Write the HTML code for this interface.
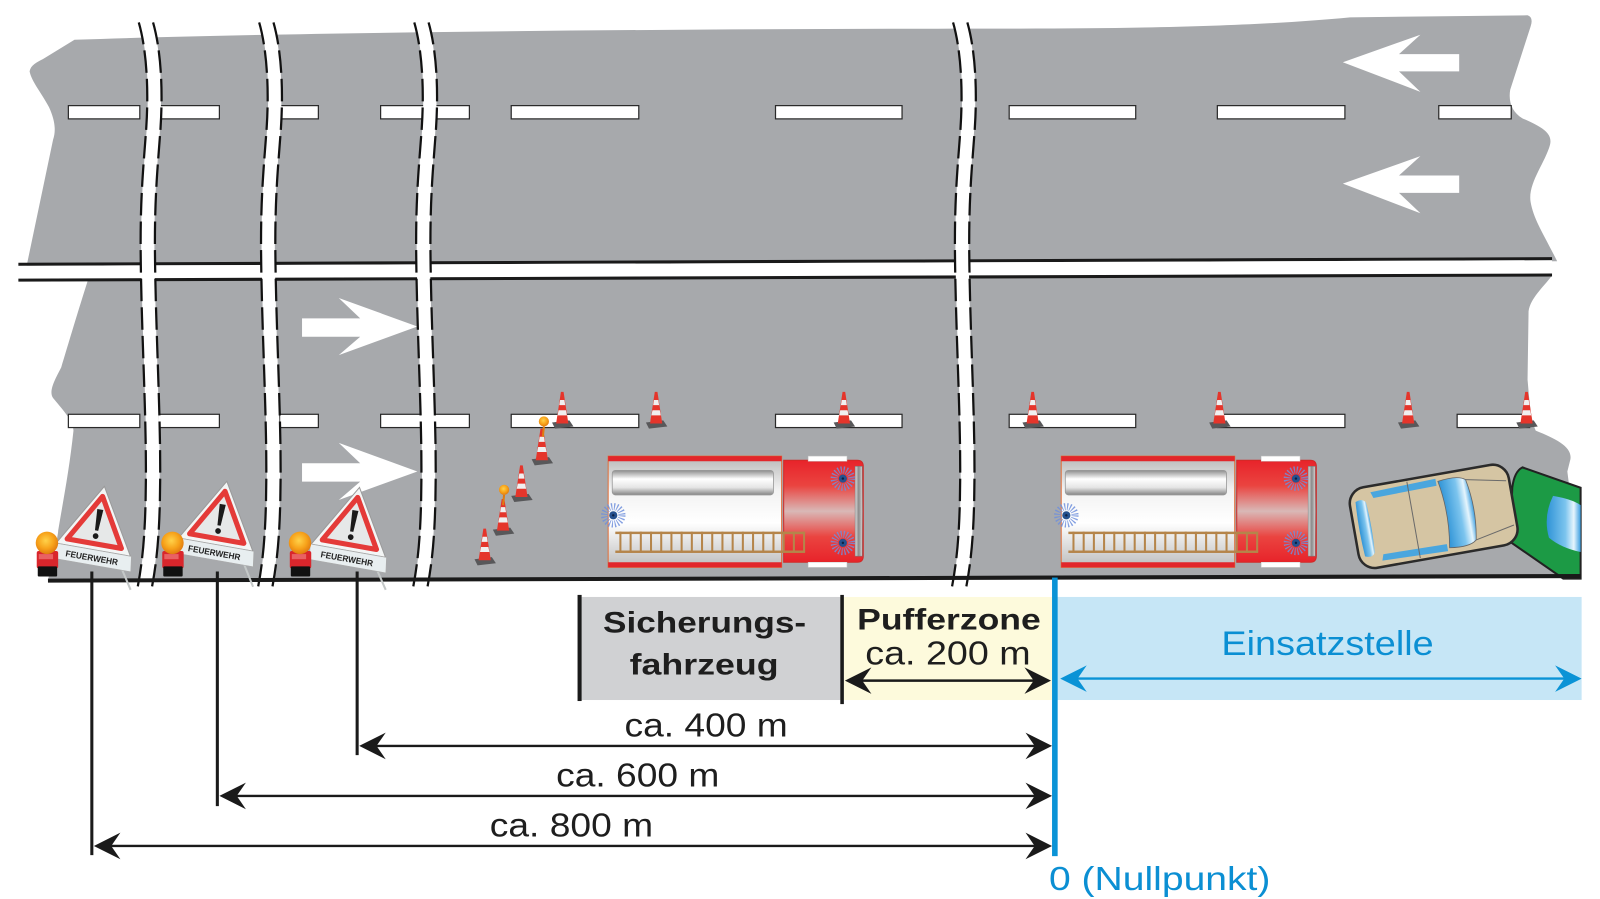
<!DOCTYPE html>
<html><head><meta charset="utf-8">
<style>html,body{margin:0;padding:0;background:#fff;overflow:hidden}svg{display:block}</style>
</head><body>
<svg width="1600" height="899" viewBox="0 0 1568 881" preserveAspectRatio="none" xmlns="http://www.w3.org/2000/svg">
<defs>
 <linearGradient id="tube" x1="0" y1="0" x2="0" y2="1">
  <stop offset="0" stop-color="#8e8e8e"/><stop offset="0.35" stop-color="#ffffff"/><stop offset="0.7" stop-color="#e4e4e4"/><stop offset="1" stop-color="#858585"/>
 </linearGradient>
 <linearGradient id="body" x1="0" y1="0" x2="0" y2="1">
  <stop offset="0" stop-color="#b8b8b8"/><stop offset="0.3" stop-color="#f2f2f2"/><stop offset="0.6" stop-color="#ffffff"/><stop offset="1" stop-color="#bdbdbd"/>
 </linearGradient>
 <linearGradient id="cab" x1="0" y1="0" x2="0" y2="1">
  <stop offset="0" stop-color="#e8232a"/><stop offset="0.25" stop-color="#ea4440"/><stop offset="0.5" stop-color="#d9b8b6"/><stop offset="0.75" stop-color="#ea4440"/><stop offset="1" stop-color="#e8232a"/>
 </linearGradient>
 <linearGradient id="ws" x1="0" y1="0" x2="1" y2="0">
  <stop offset="0" stop-color="#e0e0e0"/><stop offset="0.5" stop-color="#8a8a8a"/><stop offset="1" stop-color="#cfcfcf"/>
 </linearGradient>
 <linearGradient id="glass" x1="0" y1="0" x2="1" y2="0">
  <stop offset="0" stop-color="#2f93d6"/><stop offset="0.55" stop-color="#7cc4ee"/><stop offset="0.8" stop-color="#e6f5fd"/><stop offset="1" stop-color="#3a9ee0"/>
 </linearGradient>
 <radialGradient id="lamp" cx="0.45" cy="0.4" r="0.6">
  <stop offset="0" stop-color="#ffd24a"/><stop offset="0.6" stop-color="#f7a21a"/><stop offset="1" stop-color="#e07b10"/>
 </radialGradient>
 <g id="cone">
  <polygon points="-10,-1 7,-3 11,3 -7,5" fill="#58585a"/>
  <polygon points="-6,0 6,0 1.3,-31 -1.3,-31" fill="#e5352b"/>
  <polygon points="-4.6,-8 4.6,-8 3.6,-13 -3.6,-13" fill="#f0f0f0"/>
  <polygon points="-2.9,-18 2.9,-18 2.1,-23 -2.1,-23" fill="#f0f0f0"/>
 </g>
 <g id="bl">
  <circle r="8.5" fill="none" stroke="#6f8fdc" stroke-width="7" stroke-dasharray="1.1 1.6" opacity="0.85"/>
  <circle r="4" fill="#25518f"/>
  <circle r="1.2" fill="#0d2144"/>
 </g>
 <g id="truck">
  <rect x="0" y="0" width="170" height="109" fill="url(#body)" stroke="#e0703c" stroke-width="1"/>
  <rect x="0" y="0" width="170" height="5" fill="#e2262b"/>
  <rect x="0" y="104" width="170" height="5" fill="#e2262b"/>
  <rect x="4" y="14" width="158" height="24" rx="3" fill="url(#tube)" stroke="#999" stroke-width="0.8"/>
  <path d="M172,4 H244 Q250,4 250,10 V98 Q250,104 244,104 H172 Z" fill="url(#cab)" stroke="#d02a28" stroke-width="1"/>
  <rect x="196" y="0" width="38" height="5" fill="#fff" stroke="#ccc" stroke-width="0.5"/>
  <rect x="196" y="104" width="38" height="5" fill="#fff" stroke="#ccc" stroke-width="0.5"/>
  <rect x="242" y="10" width="7" height="88" fill="url(#ws)" stroke="#777" stroke-width="0.5"/>
  <rect x="7" y="74" width="186" height="2.4" fill="#b5854a"/>
  <rect x="7" y="92.5" width="186" height="2.4" fill="#b5854a"/>
  <g fill="#b5854a">
   <rect x="11" y="74" width="2" height="20"/><rect x="21" y="74" width="2" height="20"/><rect x="31" y="74" width="2" height="20"/><rect x="41" y="74" width="2" height="20"/><rect x="51" y="74" width="2" height="20"/><rect x="61" y="74" width="2" height="20"/><rect x="71" y="74" width="2" height="20"/><rect x="81" y="74" width="2" height="20"/><rect x="91" y="74" width="2" height="20"/><rect x="101" y="74" width="2" height="20"/><rect x="111" y="74" width="2" height="20"/><rect x="121" y="74" width="2" height="20"/><rect x="131" y="74" width="2" height="20"/><rect x="141" y="74" width="2" height="20"/><rect x="151" y="74" width="2" height="20"/><rect x="161" y="74" width="2" height="20"/><rect x="171" y="74" width="2" height="20"/><rect x="181" y="74" width="2" height="20"/><rect x="191" y="74" width="2" height="20"/>
  </g>
  <use href="#bl" x="230" y="22"/>
  <use href="#bl" x="230" y="85"/>
  <use href="#bl" x="5" y="58"/>
 </g>
 <g id="sign">
  <polygon points="0,-42 -37,21 37,21" fill="#f3f5f5" stroke="#9a9a9a" stroke-width="1"/>
  <polygon points="0,-32 -27,15 27,15" fill="#e6e8e8" stroke="#e43a38" stroke-width="5" stroke-linejoin="round"/>
  <polygon points="-3,-19 3,-19 1.6,2 -1.6,2" fill="#1a1a1a"/>
  <circle cx="0" cy="7.5" r="2.8" fill="#1a1a1a"/>
  <polygon points="-38,21 38,21 40,36 -36,36" fill="#e8eef0" stroke="#aaa" stroke-width="0.6"/>
  <text x="-26" y="32" font-family="Liberation Sans, sans-serif" font-weight="bold" font-size="8.5" fill="#222" textLength="52" lengthAdjust="spacingAndGlyphs">FEUERWEHR</text>
 </g>
 <g id="wlamp">
  <rect x="-10" y="8" width="21" height="17" rx="2" fill="#d9262c"/>
  <rect x="-8" y="11" width="14" height="5" fill="#f07a7a" opacity="0.7"/>
  <rect x="-9" y="23" width="19" height="10" rx="1" fill="#111"/>
  <circle cx="0" cy="0" r="11" fill="url(#lamp)"/>
 </g>
</defs>

<!-- Upper carriageway -->
<path d="M73,39 C300,31 700,28 1000,28 C1150,28 1250,24 1323,17 L1497,15 Q1503,17 1500,26 L1480,88 C1478,100 1482,110 1492,116 C1510,124 1522,130 1519,142 C1514,160 1497,180 1500,198 C1503,215 1512,228 1526,256 L26,261 L52,137 C55,128 54,118 48,105 C40,90 31,80 29,70 C30,64 36,61 42,58 Z" fill="#a7a9ac"/>
<!-- Lower carriageway -->
<path d="M86,275 L1521,270 C1512,282 1500,292 1498,305 L1497,372 C1499,395 1500,410 1505,422 C1525,430 1541,438 1539,450 L1536,462 L1549,566 L47,569 C52,545 57,525 57,520 C62,490 68,460 72,422 C72,412 60,400 52,390 C47,383 55,370 60,360 C66,340 78,300 86,275 Z" fill="#a7a9ac"/>

<!-- Double line -->
<line x1="18" y1="259" x2="1521" y2="253.5" stroke="#1a1a1a" stroke-width="3"/>
<polygon points="18,260.5 1521,255 1521,268 18,273" fill="#fff"/>
<line x1="18" y1="274.5" x2="1521" y2="269.5" stroke="#1a1a1a" stroke-width="3"/>

<!-- Lane dashes -->
<g fill="#fff" stroke="#2a2a2a" stroke-width="1.2">
 <rect x="67" y="103.5" width="70" height="13"/><rect x="155" y="103.5" width="60" height="13"/><rect x="274" y="103.5" width="38" height="13"/><rect x="373" y="103.5" width="87" height="13"/><rect x="501" y="103.5" width="125" height="13"/><rect x="760" y="103.5" width="124" height="13"/><rect x="989" y="103.5" width="124" height="13"/><rect x="1193" y="103.5" width="125" height="13"/><rect x="1410" y="103.5" width="71" height="13"/>
 <rect x="67" y="406" width="70" height="13"/><rect x="155" y="406" width="60" height="13"/><rect x="274" y="406" width="38" height="13"/><rect x="373" y="406" width="87" height="13"/><rect x="501" y="406" width="125" height="13"/><rect x="760" y="406" width="124" height="13"/><rect x="989" y="406" width="124" height="13"/><rect x="1193" y="406" width="125" height="13"/><rect x="1428" y="406" width="71" height="13"/>
</g>

<!-- Direction arrows -->
<g fill="#fff">
 <polygon points="1316,61 1392,34 1371,53 1430,53 1430,70 1371,70 1392,90"/>
 <polygon points="1316,180 1392,153 1371,172 1430,172 1430,189 1371,189 1392,209"/>
 <polygon points="409,320 332,292 353,312 296,312 296,330 353,330 332,348"/>
 <polygon points="409,462 332,434 353,454 296,454 296,472 353,472 332,490"/>
</g>

<!-- Break lines -->
<g fill="none">
 <g stroke="#fff" stroke-width="13">
  <path id="b1" d="M143,22 C151,50 153,90 150,130 C147,170 144,200 145,260 C146,330 150,400 150,460 C150,520 147,550 141,580"/>
  <path d="M261,22 C269,50 271,90 268,130 C265,170 262,200 263,260 C264,330 268,400 268,460 C268,520 265,550 259,580"/>
  <path d="M413,22 C421,50 423,90 420,130 C417,170 414,200 415,260 C416,330 420,400 420,460 C420,520 417,550 411,580"/>
  <path d="M941,22 C949,50 951,90 948,130 C945,170 942,200 943,260 C944,330 948,400 948,460 C948,520 945,550 939,580"/>
 </g>
 <g stroke="#111" stroke-width="2.2" stroke-dasharray="22 6">
  <path d="M136,22 C144,50 146,90 143,130 C140,170 137,200 138,260 C139,330 143,400 143,460 C143,520 140,550 134,580"/>
  <path d="M150,22 C158,50 160,90 157,130 C154,170 151,200 152,260 C153,330 157,400 157,460 C157,520 154,550 148,580"/>
  <path d="M254,22 C262,50 264,90 261,130 C258,170 255,200 256,260 C257,330 261,400 261,460 C261,520 258,550 252,580"/>
  <path d="M268,22 C276,50 278,90 275,130 C272,170 269,200 270,260 C271,330 275,400 275,460 C275,520 272,550 266,580"/>
  <path d="M406,22 C414,50 416,90 413,130 C410,170 407,200 408,260 C409,330 413,400 413,460 C413,520 410,550 404,580"/>
  <path d="M420,22 C428,50 430,90 427,130 C424,170 421,200 422,260 C423,330 427,400 427,460 C427,520 424,550 418,580"/>
  <path d="M934,22 C942,50 944,90 941,130 C938,170 935,200 936,260 C937,330 941,400 941,460 C941,520 938,550 932,580"/>
  <path d="M948,22 C956,50 958,90 955,130 C952,170 949,200 950,260 C951,330 955,400 955,460 C955,520 952,550 946,580"/>
 </g>
</g>

<!-- Cones -->
<use href="#cone" x="551" y="415"/><use href="#cone" x="643" y="415"/><use href="#cone" x="827" y="415"/><use href="#cone" x="1012" y="415"/><use href="#cone" x="1195" y="415"/><use href="#cone" x="1380" y="415"/><use href="#cone" x="1496" y="415"/>
<use href="#cone" x="531" y="451"/><use href="#cone" x="511" y="487"/><use href="#cone" x="493" y="520"/><use href="#cone" x="475" y="549"/>
<line x1="533" y1="418" x2="532" y2="428" stroke="#e07b10" stroke-width="2"/>
<circle cx="533" cy="413" r="5" fill="url(#lamp)"/>
<line x1="494" y1="485" x2="493" y2="495" stroke="#e07b10" stroke-width="2"/>
<circle cx="494" cy="480" r="5" fill="url(#lamp)"/>

<!-- Trucks -->
<use href="#truck" x="596" y="447"/>
<use href="#truck" x="1040" y="447"/>

<!-- Green car -->
<path d="M1492,458 L1549,478 L1549,567 L1532,567 L1480,531 L1482,478 Q1484,462 1492,458Z" fill="#1c9a45" stroke="#222" stroke-width="2"/>
<path d="M1522,486 Q1540,489 1549,495 L1549,541 Q1530,537 1518,527 Q1512,506 1522,486Z" fill="url(#glass)"/>
<!-- Beige car -->
<g transform="translate(1405,506) rotate(-10)">
 <rect x="-79" y="-40" width="158" height="80" rx="16" fill="#d5c5a3" stroke="#2b2b2b" stroke-width="2.5"/>
 <path d="M10,-33 Q30,-36 37,-30 Q43,0 37,30 Q30,36 10,33 Q16,0 10,-33Z" fill="url(#glass)" stroke="#666" stroke-width="0.8"/>
 <path d="M-73,-27 Q-66,-30 -63,-25 Q-61,0 -63,25 Q-66,30 -73,27 Q-75,0 -73,-27Z" fill="url(#glass)"/>
 <path d="M-57,-34 L8,-36 L8,-29 L-55,-28Z" fill="#4aa6de"/>
 <path d="M-57,34 L8,36 L8,29 L-55,28Z" fill="#4aa6de"/>
 <path d="M37,-30 L76,-22 M37,30 L76,22 M-20,-38 L-20,38" stroke="#6a6a6a" fill="none" stroke-width="1"/>
</g>

<!-- Road bottom edge -->
<line x1="47" y1="569" x2="1549" y2="564.5" stroke="#1a1a1a" stroke-width="4"/>

<!-- Warning signs and lamps -->
<g stroke="#c4c8c8" stroke-width="2"><line x1="114" y1="545" x2="128" y2="578"/><line x1="234" y1="540" x2="248" y2="575"/><line x1="364" y1="546" x2="378" y2="578"/></g>
<use href="#sign" transform="translate(95,518) rotate(10)"/>
<use href="#sign" transform="translate(215,513) rotate(10)"/>
<use href="#sign" transform="translate(345,519) rotate(10)"/>
<use href="#wlamp" x="46" y="532"/>
<use href="#wlamp" x="169" y="532"/>
<use href="#wlamp" x="294" y="532"/>

<!-- Zone boxes -->
<rect x="570" y="585" width="255" height="101" fill="#d0d1d3"/>
<rect x="827" y="585" width="204" height="101" fill="#fdfadc"/>
<rect x="1036" y="585" width="514" height="101" fill="#c6e6f6"/>
<rect x="566" y="583" width="4" height="104" fill="#1a1a1a"/>
<rect x="823.5" y="583" width="3.5" height="107" fill="#1a1a1a"/>

<g font-family="Liberation Sans, sans-serif" fill="#1e1e1e">
 <text x="591" y="620" font-size="29" font-weight="bold" textLength="199" lengthAdjust="spacingAndGlyphs">Sicherungs-</text>
 <text x="617" y="661" font-size="29" font-weight="bold" textLength="146" lengthAdjust="spacingAndGlyphs">fahrzeug</text>
 <text x="840" y="617" font-size="29" font-weight="bold" textLength="180" lengthAdjust="spacingAndGlyphs">Pufferzone</text>
 <text x="848" y="651" font-size="33" textLength="162" lengthAdjust="spacingAndGlyphs">ca. 200 m</text>
 <text x="612" y="722" font-size="33" textLength="160" lengthAdjust="spacingAndGlyphs">ca. 400 m</text>
 <text x="545" y="771" font-size="33" textLength="160" lengthAdjust="spacingAndGlyphs">ca. 600 m</text>
 <text x="480" y="820" font-size="33" textLength="160" lengthAdjust="spacingAndGlyphs">ca. 800 m</text>
</g>
<g font-family="Liberation Sans, sans-serif" fill="#0b8fd3">
 <text x="1197" y="642" font-size="34" textLength="208" lengthAdjust="spacingAndGlyphs">Einsatzstelle</text>
 <text x="1028" y="872" font-size="33" textLength="217" lengthAdjust="spacingAndGlyphs">0 (Nullpunkt)</text>
</g>

<!-- Dimension lines -->
<g stroke="#1a1a1a" stroke-width="3">
 <line x1="90" y1="560" x2="90" y2="838"/>
 <line x1="213" y1="560" x2="213" y2="790"/>
 <line x1="350" y1="560" x2="350" y2="740"/>
</g>
<g stroke="#1a1a1a" stroke-width="2.4">
 <line x1="360" y1="731" x2="1020" y2="731"/>
 <line x1="222" y1="780" x2="1020" y2="780"/>
 <line x1="100" y1="829" x2="1020" y2="829"/>
 <line x1="838" y1="667" x2="1020" y2="667"/>
</g>
<g fill="#1a1a1a">
 <path d="M352,731 L378,718 L369,731 L378,744 Z"/>
 <path d="M1031,731 L1005,718 L1014,731 L1005,744 Z"/>
 <path d="M215,780 L241,767 L232,780 L241,793 Z"/>
 <path d="M1031,780 L1005,767 L1014,780 L1005,793 Z"/>
 <path d="M92,829 L118,816 L109,829 L118,842 Z"/>
 <path d="M1031,829 L1005,816 L1014,829 L1005,842 Z"/>
 <path d="M828,667 L854,654 L845,667 L854,680 Z"/>
 <path d="M1030,667 L1004,654 L1013,667 L1004,680 Z"/>
</g>
<!-- Blue elements -->
<line x1="1050" y1="665" x2="1540" y2="665" stroke="#0a93d6" stroke-width="2.4"/>
<g fill="#0a93d6">
 <path d="M1039,665 L1065,652 L1056,665 L1065,678 Z"/>
 <path d="M1550,665 L1524,652 L1533,665 L1524,678 Z"/>
</g>
<rect x="1031" y="566" width="5.5" height="273" fill="#0a93d6"/>
</svg>
</body></html>
